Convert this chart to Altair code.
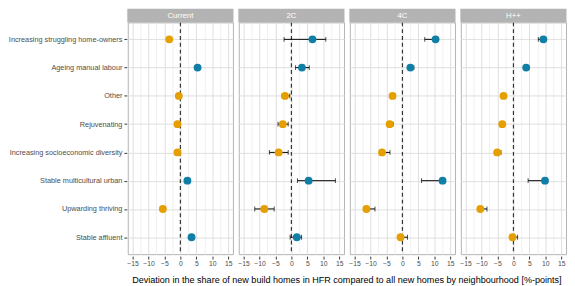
import altair as alt
import pandas as pd

cats = ["Increasing struggling home-owners", "Ageing manual labour", "Other",
        "Rejuvenating", "Increasing socioeconomic diversity",
        "Stable multicultural urban", "Upwarding thriving", "Stable affluent"]
panels = ["Current", "2C", "4C", "H++"]

current = [-3.5, 5.4, -0.5, -0.9, -0.9, 2.2, -5.5, 3.5]
c2 = [6.6, 3.3, -2.0, -2.7, -4.0, 5.4, -8.5, 1.7]
c2_lo = [-2.3, 1.3, -2.9, -4.2, -6.9, 1.9, -11.5, -0.4]
c2_hi = [10.8, 5.6, -0.5, -1.0, -1.0, 13.8, -5.4, 3.2]
c4 = [10.4, 2.5, -3.1, -4.0, -6.4, 12.6, -11.3, -0.6]
c4_lo = [7.0, 2.0, -3.4, -4.3, -6.7, 6.0, -11.6, -0.9]
c4_hi = [10.9, 3.6, -2.2, -2.9, -3.9, 12.9, -8.6, 1.6]
hpp = [9.4, 4.0, -3.1, -3.5, -5.1, 9.9, -10.4, -0.3]
hpp_lo = [7.8, 3.8, -3.3, -3.7, -5.3, 4.6, -10.6, -0.5]
hpp_hi = [9.7, 4.8, -2.9, -3.3, -3.9, 10.2, -8.3, 1.3]

series = {
    "Current": (current, [None] * 8, [None] * 8),
    "2C": (c2, c2_lo, c2_hi),
    "4C": (c4, c4_lo, c4_hi),
    "H++": (hpp, hpp_lo, hpp_hi),
}
rows = []
for p in panels:
    v, lo, hi = series[p]
    for i, c in enumerate(cats):
        rows.append({"panel": p, "cat": c, "val": v[i], "lo": lo[i], "hi": hi[i],
                     "sign": "neg" if v[i] < 0 else "pos"})
df = pd.DataFrame(rows)

W, H = 108, 238
FONT = "Liberation Sans"
xscale = alt.Scale(domain=[-16.5, 16.5], nice=False, zero=False)
yenc = alt.Y("cat:N", sort=cats, title=None,
             scale=alt.Scale(type="point", padding=0.6),
             axis=alt.Axis(grid=True, gridColor="#DEDEDE", labelColor="#4D4D4D",
                           labelFontSize=7.5, labelLimit=300, tickColor="#333333",
                           tickSize=3, domain=False, labelPadding=2))
xaxis = alt.Axis(
    title=None, grid=True, labelOverlap=False, domain=False,
    values=[-15, -12.5, -10, -7.5, -5, -2.5, 0, 2.5, 5, 7.5, 10, 12.5, 15],
    labelExpr="(abs(datum.value) % 5 == 0) ? datum.label : ''",
    gridColor=alt.condition("abs(datum.value) % 5 == 0", alt.value("#DEDEDE"), alt.value("#F0F0F0")),
    tickOpacity=alt.condition("abs(datum.value) % 5 == 0", alt.value(1), alt.value(0)),
    labelColor="#4D4D4D", labelFontSize=7, tickColor="#333333", tickSize=3, labelPadding=1,
)

zero = alt.Chart().mark_rule(strokeDash=[4, 3], color="#333333", strokeWidth=1.2).encode(
    x=alt.datum(0, scale=xscale, axis=xaxis)
).transform_filter(alt.datum.cat == "Other")

err = alt.Chart().mark_rule(color="black", strokeWidth=1).encode(
    x=alt.X("lo:Q", scale=xscale, axis=xaxis), x2="hi:Q", y=yenc
).transform_filter("isValid(datum.lo)")

cap_lo = alt.Chart().mark_tick(color="black", thickness=1, size=5).encode(
    x=alt.X("lo:Q", scale=xscale, axis=xaxis), y=yenc
).transform_filter("isValid(datum.lo)")
cap_hi = alt.Chart().mark_tick(color="black", thickness=1, size=5).encode(
    x=alt.X("hi:Q", scale=xscale, axis=xaxis), y=yenc
).transform_filter("isValid(datum.hi)")

pts = alt.Chart().mark_circle(size=65, opacity=1).encode(
    x=alt.X("val:Q", scale=xscale, axis=xaxis),
    y=yenc,
    color=alt.Color("sign:N", scale=alt.Scale(domain=["neg", "pos"], range=["#E69F00", "#0F7FA5"]),
                    legend=None),
)

strip = alt.Chart().mark_rect(color="#B3B3B3").encode(
    x=alt.value(-0.5), x2=alt.value(W + 0.5), y=alt.value(-14), y2=alt.value(0)
).transform_filter(alt.datum.cat == "Other")
strip_txt = alt.Chart().mark_text(color="white", fontSize=8, font=FONT).encode(
    x=alt.value(W / 2), y=alt.value(-6.5), text="panel:N"
).transform_filter(alt.datum.cat == "Other")

layered = alt.layer(zero, err, cap_lo, cap_hi, pts, strip, strip_txt).properties(width=W, height=H)

chart = layered.facet(
    data=df,
    column=alt.Column(
        "panel:N", sort=panels,
        header=alt.Header(
            labels=False, labelPadding=0,
            title="Deviation in the share of new build homes in HFR compared to all new homes by neighbourhood [%-points]",
            titleOrient="bottom", titleFontSize=9.3, titleFont=FONT, titleColor="black",
            titleFontWeight="normal", titlePadding=0,
        ),
    ),
    spacing=4,
).properties(
    padding={"left": 0, "top": -4, "right": 0, "bottom": 0}
).configure_view(
    stroke="#B3B3B3", strokeWidth=1
).configure_axis(
    labelFont=FONT,
).configure_facet(spacing=4)

chart.save("out.html", embed_options={"renderer": "svg", "actions": False})
